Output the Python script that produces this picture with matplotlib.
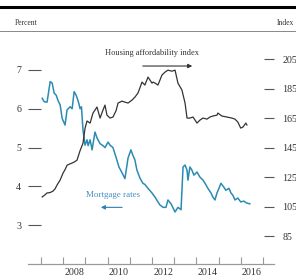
import matplotlib
matplotlib.use('Agg')
import matplotlib.pyplot as plt
from matplotlib.lines import Line2D

# Mortgage rates (percent, left axis)
mort_years = [2007.05, 2007.14, 2007.27, 2007.41, 2007.50, 2007.59, 2007.68, 2007.77,
              2007.86, 2007.95, 2008.08, 2008.17, 2008.31, 2008.40, 2008.49, 2008.58,
              2008.67, 2008.76, 2008.82, 2008.89, 2008.98, 2009.07, 2009.12, 2009.21,
              2009.30, 2009.43, 2009.52, 2009.66, 2009.79, 2009.88, 2010.02, 2010.11,
              2010.24, 2010.38, 2010.51, 2010.65, 2010.78, 2010.92, 2011.05, 2011.14,
              2011.23, 2011.32, 2011.46, 2011.59, 2011.68, 2011.82, 2012.00, 2012.14,
              2012.27, 2012.36, 2012.50, 2012.63, 2012.72, 2012.86, 2013.04, 2013.17,
              2013.31, 2013.40, 2013.49, 2013.58, 2013.62, 2013.71, 2013.80, 2013.89,
              2014.03, 2014.16, 2014.30, 2014.39, 2014.52, 2014.66, 2014.75, 2014.84,
              2014.93, 2015.02, 2015.11, 2015.24, 2015.33, 2015.47, 2015.56, 2015.65,
              2015.74, 2015.87, 2016.00, 2016.14, 2016.28, 2016.41]
mort_rates = [6.27, 6.18, 6.17, 6.70, 6.66, 6.40, 6.35, 6.20,
              6.10, 5.75, 5.58, 5.97, 6.05, 6.00, 6.44, 6.35,
              6.20, 6.00, 6.05, 5.45, 5.06, 5.20, 5.05, 5.20,
              4.94, 5.40, 5.25, 5.10, 5.05, 5.00, 5.14, 5.06,
              5.00, 4.75, 4.50, 4.35, 4.20, 4.73, 4.94, 4.80,
              4.68, 4.42, 4.21, 4.08, 4.05, 3.95, 3.83, 3.72,
              3.60, 3.52, 3.46, 3.46, 3.65, 3.55, 3.34, 3.46,
              3.40, 4.50, 4.55, 4.42, 4.16, 4.50, 4.42, 4.29,
              4.37, 4.24, 4.16, 4.08, 3.95, 3.83, 3.72, 3.65,
              3.83, 3.95, 4.08, 3.98, 3.90, 3.95, 3.83, 3.77,
              3.65, 3.70, 3.60, 3.62, 3.57, 3.55]

# Housing affordability index (right axis)
hai_years = [2007.05, 2007.18, 2007.27, 2007.41, 2007.54, 2007.63, 2007.72, 2007.86,
             2007.99, 2008.08, 2008.17, 2008.31, 2008.40, 2008.53, 2008.62, 2008.76,
             2008.89, 2008.98, 2009.07, 2009.21, 2009.34, 2009.43, 2009.52, 2009.66,
             2009.79, 2009.88, 2009.97, 2010.11, 2010.24, 2010.38, 2010.47, 2010.65,
             2010.78, 2010.92, 2011.10, 2011.23, 2011.37, 2011.55, 2011.68, 2011.82,
             2012.00, 2012.05, 2012.14, 2012.27, 2012.45, 2012.59, 2012.72, 2012.90,
             2013.04, 2013.17, 2013.35, 2013.49, 2013.58, 2013.71, 2013.85, 2014.03,
             2014.16, 2014.30, 2014.48, 2014.61, 2014.75, 2014.93, 2014.97, 2015.15,
             2015.38, 2015.60, 2015.74, 2015.87, 2016.00, 2016.10, 2016.23, 2016.28]
hai_index = [111.5, 113.0, 114.2, 114.5, 115.5, 117.0, 119.6, 123.0,
             127.7, 130.0, 133.0, 134.0, 134.5, 135.5, 136.5, 143.0,
             148.0, 158.0, 163.0, 161.6, 168.4, 170.4, 172.5, 165.0,
             170.4, 173.8, 167.0, 165.0, 165.7, 170.0, 175.2, 176.5,
             175.8, 175.2, 177.2, 179.2, 182.0, 189.4, 187.4, 192.8,
             188.7, 189.4, 188.7, 187.4, 194.2, 196.2, 197.5, 196.8,
             197.5, 188.7, 184.0, 175.2, 165.0, 165.0, 165.7, 161.6,
             163.6, 165.0, 164.3, 165.7, 166.4, 167.0, 168.4, 166.4,
             165.7, 165.0, 164.3, 162.3, 158.2, 158.9, 161.6, 160.3]

left_ticks = [3, 4, 5, 6, 7]
right_ticks = [85, 105, 125, 145, 165, 185, 205]
year_labels = ['2008', '2010', '2012', '2014', '2016']

plt.rcParams['font.family'] = ['Liberation Serif', 'DejaVu Serif']

fig = plt.figure(figsize=(2.96, 2.80), dpi=100)
ax = fig.add_axes([0.0946, 0.057, 0.831, 0.832])
ax2 = ax.twinx()

ax.plot(mort_years, mort_rates, color='#2b8bb3', lw=1.1)
ax2.plot(hai_years, hai_index, color='#333333', lw=0.9)

ax.set_xlim(2006.41, 2017.5)
ax.set_ylim(2, 8)
ax2.set_ylim(66, 224)

for a in (ax, ax2):
    for s in ['top', 'left', 'right']:
        a.spines[s].set_visible(False)
    a.spines['bottom'].set_color('#999999')
    a.spines['bottom'].set_linewidth(0.8)

ax.set_yticks(left_ticks)
ax.tick_params(axis='y', direction='in', length=9, width=0.8, color='#555555',
               pad=5, labelsize=7.2, labelcolor='#333333')
ax2.set_yticks(right_ticks)
ax2.tick_params(axis='y', direction='in', length=7, width=0.8, color='#555555',
                pad=6, labelsize=7.2, labelcolor='#333333')

# year ticks at boundaries, labels in the middle of the year
ax.set_xticks(range(2007, 2018))
ax.set_xticklabels([])
ax.set_xticks([2008.5, 2010.5, 2012.5, 2014.5, 2016.5], minor=True)
ax.set_xticklabels(year_labels, minor=True)
ax.tick_params(axis='x', which='major', direction='in', length=5, width=0.8, color='#999999')
ax.tick_params(axis='x', which='minor', length=0, pad=3, labelsize=7.2, labelcolor='#333333')

ax.text(2012.0, 7.44, 'Housing affordability index', ha='center', va='center',
        fontsize=6, color='#333333')
ax.annotate('', xy=(2013.94, 7.10), xytext=(2011.46, 7.10),
            arrowprops=dict(arrowstyle='-|>', color='#333333', lw=0.8, mutation_scale=6))
ax.text(2010.24, 3.77, 'Mortgage rates', ha='center', va='center',
        fontsize=6.5, color='#4a8fc0')
ax.annotate('', xy=(2009.57, 3.46), xytext=(2010.78, 3.46),
            arrowprops=dict(arrowstyle='-|>', color='#2b7fb8', lw=0.8, mutation_scale=6))

# header rules and unit labels
fig.add_artist(Line2D([0, 1], [0.975, 0.975], color='black', lw=2.2))
fig.add_artist(Line2D([0, 1], [0.889, 0.889], color='#888888', lw=0.7))
fig.text(0.05, 0.918, 'Percent', fontsize=5.5, color='#333333', va='center')
fig.text(0.935, 0.918, 'Index', fontsize=5.5, color='#333333', va='center')

fig.savefig('out.png', dpi=100)
